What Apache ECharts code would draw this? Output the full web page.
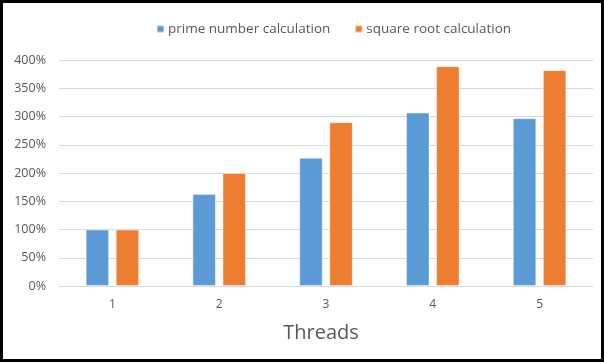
<!DOCTYPE html>
<html>
<head>
<meta charset="utf-8">
<script src="https://cdn.jsdelivr.net/npm/echarts@6/dist/echarts.min.js"></script>
<style>
html,body{margin:0;padding:0;background:#fff;}
#wrap{position:relative;width:604px;height:362px;}
#chart{position:absolute;left:0;top:0;width:604px;height:362px;}
#frame{position:absolute;left:0;top:0;width:604px;height:362px;box-sizing:border-box;border:3px solid #000;pointer-events:none;}
</style>
</head>
<body>
<div id="wrap"><div id="chart"></div><div id="frame"></div></div>
<script>
const categories = ['1', '2', '3', '4', '5'];
const primeValues = [100, 163, 227, 307, 297];
const sqrtValues = [100, 200, 290, 389, 382];
const seriesNames = ['prime number calculation', 'square root calculation'];
const xAxisTitle = 'Threads';

const font = '"Open Sans", "Noto Sans", sans-serif';
const chart = echarts.init(document.getElementById('chart'), null, {renderer: 'canvas'});
chart.setOption({
  animation: false,
  backgroundColor: '#fff',
  legend: {
    top: 17,
    left: 151,
    itemWidth: 7,
    itemHeight: 7,
    itemGap: 24,
    icon: 'rect',
    textStyle: {color: '#595959', fontSize: 13.5, fontFamily: font, padding: [0, 0, 0, -1]},
    data: seriesNames
  },
  grid: {left: 59, right: 11, top: 60, bottom: 76, containLabel: false},
  xAxis: {
    type: 'category',
    data: categories,
    name: xAxisTitle,
    nameLocation: 'middle',
    nameGap: 37,
    nameTextStyle: {color: '#595959', fontSize: 20, fontFamily: font, padding: [0, 10, 0, 0]},
    axisLine: {lineStyle: {color: '#D9D9D9', width: 1}},
    axisTick: {show: false},
    axisLabel: {color: '#595959', fontSize: 12, fontFamily: font, margin: 13}
  },
  yAxis: {
    type: 'value',
    min: 0,
    max: 400,
    interval: 50,
    axisLine: {show: false},
    axisTick: {show: false},
    splitLine: {lineStyle: {color: '#D9D9D9', width: 1}},
    axisLabel: {color: '#595959', fontSize: 12.5, fontFamily: font, margin: 13, formatter: '{value}%'}
  },
  series: [
    {
      name: seriesNames[0],
      type: 'bar',
      data: primeValues,
      barWidth: '22%',
      barGap: '28%',
      itemStyle: {color: '#5B9BD5', borderColor: 'rgba(255,255,255,0.45)', borderWidth: 1}
    },
    {
      name: seriesNames[1],
      type: 'bar',
      data: sqrtValues,
      barWidth: '22%',
      barGap: '28%',
      itemStyle: {color: '#ED7D31', borderColor: 'rgba(255,255,255,0.45)', borderWidth: 1}
    }
  ]
});
</script>
</body>
</html>
